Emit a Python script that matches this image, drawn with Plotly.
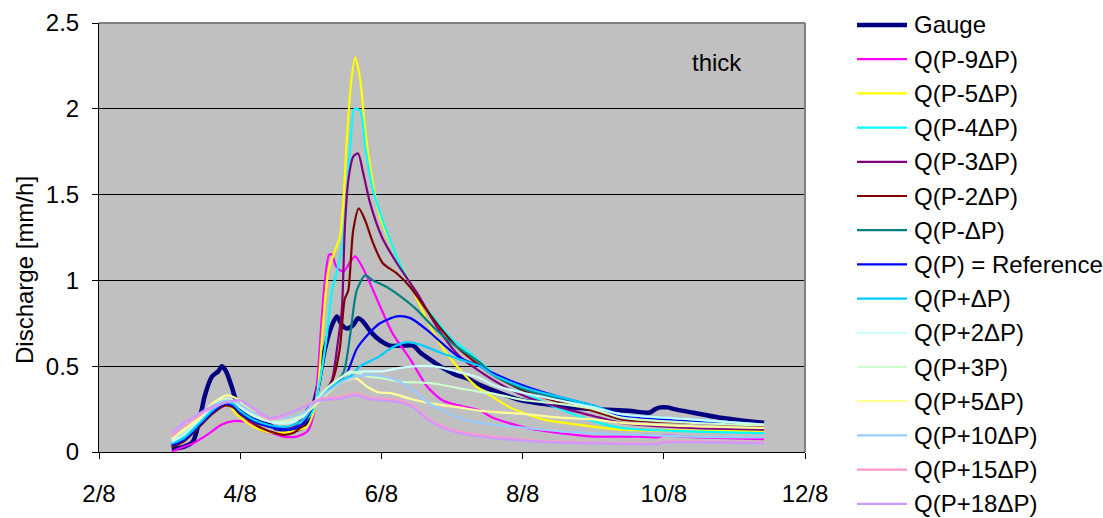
import plotly.graph_objects as go

# Time axis: day of August (fractional), values in mm/h
tick_days = [2, 4, 6, 8, 10, 12]
tick_labels = ["2/8", "4/8", "6/8", "8/8", "10/8", "12/8"]
q_ticks = [0, 0.5, 1, 1.5, 2, 2.5]
q_labels = ["0", "0.5", "1", "1.5", "2", "2.5"]

gauge_t = [3.03, 3.2, 3.33, 3.43, 3.5, 3.6, 3.69, 3.74, 3.8, 3.88, 3.95, 4.05, 4.2, 4.35, 4.5, 4.65, 4.8, 4.9, 5.0,
           5.09, 5.2, 5.3, 5.37, 5.44, 5.51, 5.6, 5.67, 5.74, 5.85, 5.98, 6.12, 6.3, 6.45, 6.55, 6.65, 6.87, 7.05,
           7.21, 7.4, 7.7, 8.0, 8.5, 9.0, 9.5, 9.8, 9.88, 9.95, 10.05, 10.15, 10.4, 10.8, 11.42]
gauge_q = [0.02, 0.03, 0.06, 0.2, 0.33, 0.44, 0.47, 0.5, 0.47, 0.38, 0.29, 0.24, 0.2, 0.17, 0.14, 0.13, 0.13, 0.15, 0.22,
           0.36, 0.6, 0.74, 0.79, 0.74, 0.72, 0.74, 0.78, 0.76, 0.7, 0.65, 0.62, 0.62, 0.62, 0.58, 0.55, 0.49, 0.45,
           0.43, 0.39, 0.34, 0.3, 0.27, 0.25, 0.24, 0.23, 0.25, 0.26, 0.26, 0.25, 0.23, 0.2, 0.17]

m9_t = [3.03, 3.08, 3.2, 3.33, 3.53, 3.74, 3.9, 4.0, 4.14, 4.28, 4.46, 4.61, 4.8, 4.95, 5.03, 5.09, 5.15, 5.2, 5.26,
        5.3, 5.36, 5.46, 5.56, 5.63, 5.7, 5.8, 5.98, 6.16, 6.41, 6.65, 6.87, 7.11, 7.4, 7.58, 8.06, 8.53, 9.0, 9.66,
        9.9, 10.0, 10.5, 11.42]
m9_q = [0.0, 0.01, 0.03, 0.05, 0.1, 0.16, 0.18, 0.18, 0.17, 0.13, 0.11, 0.09, 0.09, 0.12, 0.2, 0.4, 0.75, 1.0, 1.15,
        1.15, 1.08, 1.05, 1.11, 1.14, 1.1, 1.02, 0.85, 0.69, 0.54, 0.38, 0.3, 0.27, 0.24, 0.2, 0.14, 0.11, 0.09, 0.09,
        0.085, 0.095, 0.085, 0.075]

m5_t = [3.03, 3.2, 3.43, 3.6, 3.75, 3.85, 3.95, 4.1, 4.28, 4.5, 4.75, 4.95, 5.03, 5.1, 5.17, 5.25, 5.34, 5.41, 5.46,
        5.51, 5.57, 5.63, 5.7, 5.77, 5.87, 5.98, 6.16, 6.41, 6.55, 6.83, 7.07, 7.35, 7.58, 7.82, 8.29, 8.77, 9.4,
        10.4, 11.42]
m5_q = [0.04, 0.08, 0.16, 0.24, 0.28, 0.27, 0.22, 0.17, 0.13, 0.11, 0.12, 0.15, 0.22, 0.36, 0.73, 1.06, 1.17, 1.25,
        1.45, 1.82, 2.15, 2.3, 2.17, 1.88, 1.59, 1.37, 1.19, 0.98, 0.85, 0.63, 0.5, 0.38, 0.32, 0.26, 0.19, 0.16,
        0.13, 0.125, 0.12]

m4_t = [3.03, 3.2, 3.43, 3.6, 3.78, 3.9, 4.0, 4.14, 4.3, 4.5, 4.7, 4.9, 5.03, 5.13, 5.23, 5.3, 5.37, 5.46, 5.56,
        5.62, 5.7, 5.77, 5.88, 6.08, 6.26, 6.55, 6.73, 6.97, 7.3, 7.58, 8.06, 8.53, 9.0, 9.4, 10.4, 11.42]
m4_q = [0.05, 0.09, 0.18, 0.25, 0.29, 0.27, 0.23, 0.19, 0.16, 0.14, 0.14, 0.17, 0.24, 0.42, 0.69, 0.94, 1.05, 1.25,
        1.78, 2.0, 1.99, 1.78, 1.53, 1.28, 1.1, 0.88, 0.79, 0.67, 0.56, 0.46, 0.34, 0.25, 0.18, 0.14, 0.12, 0.11]

m3_t = [3.03, 3.2, 3.43, 3.6, 3.78, 3.9, 4.0, 4.14, 4.3, 4.5, 4.65, 4.8, 4.95, 5.1, 5.2, 5.3, 5.37, 5.44, 5.48, 5.53,
        5.6, 5.67, 5.74, 5.84, 6.01, 6.22, 6.5, 6.8, 7.1, 7.58, 8.06, 8.53, 9.0, 9.4, 10.4, 11.42]
m3_q = [0.04, 0.07, 0.16, 0.23, 0.28, 0.27, 0.23, 0.19, 0.16, 0.14, 0.14, 0.16, 0.25, 0.3, 0.35, 0.42, 0.6, 0.83,
        1.29, 1.58, 1.72, 1.74, 1.63, 1.45, 1.25, 1.1, 0.93, 0.72, 0.56, 0.42, 0.32, 0.26, 0.21, 0.17, 0.14, 0.13]

m2_t = [3.03, 3.2, 3.43, 3.6, 3.78, 3.9, 4.0, 4.14, 4.3, 4.5, 4.61, 4.75, 4.9, 4.95, 5.05, 5.2, 5.31, 5.41, 5.48,
        5.53, 5.6, 5.68, 5.77, 5.88, 6.02, 6.22, 6.41, 6.55, 6.8, 7.1, 7.58, 8.06, 8.53, 9.0, 9.4, 10.4, 11.42]
m2_q = [0.03, 0.06, 0.15, 0.22, 0.27, 0.26, 0.22, 0.18, 0.14, 0.11, 0.1, 0.11, 0.16, 0.2, 0.28, 0.35, 0.42, 0.6,
        0.89, 0.94, 1.29, 1.42, 1.35, 1.22, 1.1, 1.04, 0.96, 0.88, 0.74, 0.6, 0.45, 0.35, 0.29, 0.24, 0.19, 0.17, 0.15]

m1_t = [3.03, 3.2, 3.43, 3.6, 3.78, 3.9, 4.0, 4.14, 4.3, 4.5, 4.7, 4.9, 5.05, 5.25, 5.46, 5.56, 5.65, 5.77, 5.88,
        6.08, 6.26, 6.5, 6.73, 7.01, 7.4, 7.58, 8.06, 8.53, 9.0, 9.4, 10.4, 11.42]
m1_q = [0.04, 0.07, 0.16, 0.23, 0.28, 0.27, 0.23, 0.19, 0.16, 0.14, 0.13, 0.17, 0.28, 0.36, 0.46, 0.69, 0.94, 1.03,
        1.0, 0.96, 0.91, 0.83, 0.73, 0.63, 0.52, 0.45, 0.36, 0.31, 0.26, 0.2, 0.18, 0.16]

ref_t = [3.03, 3.2, 3.43, 3.6, 3.78, 3.9, 4.0, 4.14, 4.3, 4.5, 4.7, 4.9, 5.05, 5.25, 5.4, 5.51, 5.65, 5.8, 5.98,
         6.22, 6.41, 6.65, 6.87, 7.11, 7.4, 7.58, 8.06, 8.53, 9.0, 9.4, 10.4, 11.42]
ref_q = [0.04, 0.07, 0.16, 0.23, 0.28, 0.27, 0.23, 0.19, 0.16, 0.14, 0.13, 0.17, 0.28, 0.36, 0.42, 0.46, 0.6, 0.68,
         0.75, 0.79, 0.78, 0.71, 0.63, 0.55, 0.5, 0.46, 0.38, 0.32, 0.27, 0.21, 0.18, 0.16]

p1_t = [3.03, 3.2, 3.43, 3.6, 3.78, 3.9, 4.0, 4.14, 4.3, 4.5, 4.7, 4.9, 5.05, 5.25, 5.45, 5.56, 5.7, 5.94, 6.16,
        6.36, 6.59, 6.83, 7.11, 7.4, 7.58, 8.06, 8.53, 9.0, 9.4, 10.4, 11.42]
p1_q = [0.05, 0.08, 0.17, 0.24, 0.29, 0.28, 0.24, 0.2, 0.17, 0.15, 0.15, 0.19, 0.28, 0.37, 0.42, 0.44, 0.5, 0.55,
        0.61, 0.64, 0.62, 0.58, 0.54, 0.5, 0.45, 0.37, 0.32, 0.27, 0.22, 0.19, 0.16]

p2_t = [3.03, 3.2, 3.43, 3.6, 3.8, 3.9, 4.0, 4.14, 4.3, 4.5, 4.7, 4.9, 5.05, 5.25, 5.45, 5.56, 5.8, 6.02, 6.26, 6.5,
        6.73, 6.97, 7.4, 7.58, 8.06, 8.53, 9.0, 9.4, 10.4, 11.42]
p2_q = [0.06, 0.1, 0.19, 0.26, 0.31, 0.3, 0.26, 0.22, 0.19, 0.17, 0.17, 0.21, 0.29, 0.38, 0.44, 0.46, 0.47, 0.47,
        0.49, 0.5, 0.5, 0.48, 0.43, 0.39, 0.34, 0.3, 0.26, 0.22, 0.19, 0.16]

p3_t = [3.03, 3.2, 3.43, 3.6, 3.8, 3.9, 4.0, 4.14, 4.3, 4.5, 4.7, 4.9, 5.05, 5.25, 5.45, 5.56, 5.8, 6.02, 6.26, 6.73,
        7.11, 7.4, 7.58, 8.06, 8.53, 9.0, 9.4, 10.4, 11.42]
p3_q = [0.07, 0.12, 0.2, 0.27, 0.31, 0.3, 0.27, 0.23, 0.2, 0.18, 0.18, 0.22, 0.29, 0.38, 0.44, 0.47, 0.44, 0.43,
        0.41, 0.4, 0.37, 0.35, 0.34, 0.3, 0.28, 0.25, 0.2, 0.17, 0.155]

p5_t = [3.03, 3.2, 3.43, 3.6, 3.81, 3.95, 4.05, 4.2, 4.4, 4.6, 4.8, 5.0, 5.15, 5.41, 5.63, 5.8, 5.94, 6.16, 6.41,
        6.73, 7.11, 7.4, 8.06, 8.53, 9.0, 9.4, 10.4, 11.42]
p5_q = [0.08, 0.13, 0.2, 0.28, 0.33, 0.31, 0.27, 0.23, 0.2, 0.19, 0.21, 0.25, 0.31, 0.4, 0.43, 0.38, 0.35, 0.34,
        0.31, 0.28, 0.26, 0.24, 0.22, 0.2, 0.19, 0.17, 0.15, 0.14]

p10_t = [3.03, 3.2, 3.43, 3.6, 3.8, 3.95, 4.1, 4.3, 4.5, 4.7, 4.9, 5.1, 5.3, 5.56, 5.8, 6.02, 6.26, 6.45, 6.65,
         6.87, 7.1, 7.4, 7.58, 8.06, 8.53, 9.0, 9.66, 10.4, 11.42]
p10_q = [0.1, 0.16, 0.22, 0.27, 0.3, 0.29, 0.25, 0.21, 0.19, 0.2, 0.23, 0.3, 0.37, 0.43, 0.45, 0.44, 0.41, 0.36,
         0.29, 0.24, 0.2, 0.17, 0.16, 0.14, 0.12, 0.11, 0.1, 0.09, 0.085]

p15_t = [3.03, 3.2, 3.33, 3.53, 3.81, 4.0, 4.14, 4.28, 4.42, 4.56, 4.71, 4.89, 5.13, 5.4, 5.63, 5.8, 6.02, 6.26,
         6.45, 6.65, 6.87, 7.1, 7.4, 8.06, 8.53, 9.0, 9.66, 9.9, 10.0, 11.42]
p15_q = [0.09, 0.15, 0.19, 0.24, 0.29, 0.3, 0.27, 0.22, 0.19, 0.2, 0.23, 0.26, 0.31, 0.32, 0.34, 0.32, 0.31, 0.3,
         0.27, 0.2, 0.15, 0.12, 0.1, 0.07, 0.06, 0.055, 0.05, 0.05, 0.06, 0.055]

p18_t = [3.03, 3.2, 3.33, 3.53, 3.81, 4.0, 4.14, 4.28, 4.42, 4.56, 4.71, 4.89, 5.13, 5.4, 5.63, 5.8, 6.02, 6.26,
         6.45, 6.65, 6.87, 7.1, 7.4, 8.06, 8.53, 9.0, 9.66, 9.9, 10.0, 11.42]
p18_q = [0.11, 0.17, 0.2, 0.25, 0.29, 0.3, 0.27, 0.23, 0.2, 0.21, 0.23, 0.26, 0.3, 0.31, 0.33, 0.31, 0.3, 0.29,
         0.26, 0.19, 0.14, 0.11, 0.09, 0.065, 0.055, 0.05, 0.045, 0.045, 0.055, 0.05]

series_names = ["Gauge", "Q(P-9ΔP)", "Q(P-5ΔP)", "Q(P-4ΔP)", "Q(P-3ΔP)", "Q(P-2ΔP)", "Q(P-ΔP)",
                "Q(P) = Reference", "Q(P+ΔP)", "Q(P+2ΔP)", "Q(P+3P)", "Q(P+5ΔP)", "Q(P+10ΔP)",
                "Q(P+15ΔP)", "Q(P+18ΔP)"]
series_t = [gauge_t, m9_t, m5_t, m4_t, m3_t, m2_t, m1_t, ref_t, p1_t, p2_t, p3_t, p5_t, p10_t, p15_t, p18_t]
series_q = [gauge_q, m9_q, m5_q, m4_q, m3_q, m2_q, m1_q, ref_q, p1_q, p2_q, p3_q, p5_q, p10_q, p15_q, p18_q]
colors = ["#000080", "#FF00FF", "#FFFF00", "#00FFFF", "#800080", "#800000", "#008080", "#0000FF",
          "#00CCFF", "#CCFFFF", "#CCFFCC", "#FFFF99", "#99CCFF", "#FF99CC", "#CC99FF"]
widths = [4.5] + [2.2] * 14

FONT = "Arial, Liberation Sans, sans-serif"

# plot-area geometry in pixels
W, H = 1103, 518
L, R, T, B = 99, 805, 23, 452


def px_x(x):
    return (x - L) / (R - L)


def px_y(y):
    return (B - y) / (B - T)


fig = go.Figure()
for name, t, q, c, w in zip(series_names, series_t, series_q, colors, widths):
    fig.add_trace(go.Scatter(x=t, y=q, mode="lines", name=name,
                             line=dict(color=c, width=w, shape="spline", smoothing=0.7),
                             showlegend=False))

shapes = [
    dict(type="line", xref="paper", yref="paper", x0=0, x1=1, y0=1, y1=1,
         line=dict(color="#808080", width=2)),
    dict(type="line", xref="paper", yref="paper", x0=1, x1=1, y0=0, y1=1,
         line=dict(color="#808080", width=2)),
]
annotations = [
    dict(text="thick", xref="paper", yref="paper", x=px_x(717), y=px_y(62),
         xanchor="center", yanchor="middle",
         showarrow=False, font=dict(size=24, color="black", family=FONT)),
    dict(text="Discharge [mm/h]", xref="paper", yref="paper", x=px_x(24), y=px_y(270),
         xanchor="center", yanchor="middle",
         textangle=-90, showarrow=False, font=dict(size=24, color="black", family=FONT)),
]

# legend drawn as sample lines with labels
for i, (name, c, w) in enumerate(zip(series_names, colors, widths)):
    yy = 25 + i * 34.2
    shapes.append(dict(type="line", xref="paper", yref="paper",
                       x0=px_x(857), x1=px_x(907), y0=px_y(yy), y1=px_y(yy),
                       line=dict(color=c, width=w)))
    annotations.append(dict(text=name, xref="paper", yref="paper", x=px_x(912), y=px_y(yy),
                            xanchor="left", yanchor="middle", showarrow=False,
                            font=dict(size=24, color="black", family=FONT)))

fig.update_layout(
    width=W, height=H,
    margin=dict(l=L, r=W - R, t=T, b=H - B),
    paper_bgcolor="white", plot_bgcolor="#C0C0C0",
    font=dict(family=FONT, size=24, color="black"),
    shapes=shapes, annotations=annotations,
    xaxis=dict(range=[2, 12], tickvals=tick_days, ticktext=tick_labels, automargin=False,
               showgrid=False, zeroline=False, showline=True, linecolor="black", linewidth=1,
               ticks="outside", ticklen=6, tickcolor="black", ticklabelstandoff=14),
    yaxis=dict(range=[0, 2.5], tickvals=q_ticks, ticktext=q_labels, automargin=False,
               showgrid=True, gridcolor="black", gridwidth=1, zeroline=False,
               showline=True, linecolor="black", linewidth=1,
               ticks="outside", ticklen=6, tickcolor="black", ticklabelstandoff=8),
)

fig.write_html("out.html")
